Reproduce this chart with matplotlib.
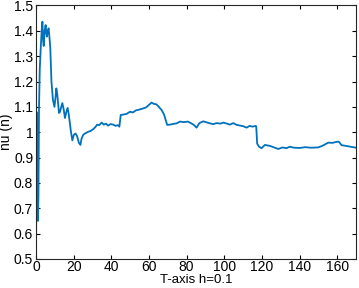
import matplotlib.pyplot as plt

plt.rcParams['font.family'] = ['Liberation Sans', 'DejaVu Sans']

# values
t = [0, 0.3, 0.6, 1.0, 1.3, 1.6, 2.0, 2.5, 3.0, 3.4, 3.8, 4.1, 4.6, 5.1, 5.5, 5.8,
     6.3, 6.7, 7.2, 7.6, 8.2, 9.0, 9.8, 10.4, 10.8, 11.3, 12.2, 12.7, 13.4, 14.0,
     14.7, 15.4, 16.1, 16.8, 17.4, 18.0, 18.6, 19.3, 20.1, 21.0, 21.8, 22.8, 23.6,
     24.2, 25.1, 26.2, 27.8, 29.0, 30.4, 31.5, 32.5, 33.6, 34.9, 36.0, 37.2, 38.3,
     39.5, 41.0, 42.3, 43.5, 44.3, 45.0, 46.5, 48.0, 50.0, 51.5, 53.0, 55.2, 57.0,
     58.5, 60.0, 61.4, 62.5, 64.0, 65.5, 66.7, 68.0, 69.0, 69.7, 71.2, 73.0, 74.7,
     76.5, 78.5, 80.7, 82.5, 84.0, 85.3, 86.8, 88.8, 91.0, 92.5, 94.1, 96.0, 98.0,
     99.5, 101.5, 103.0, 104.8, 106.6, 108.5, 110.0, 111.9, 113.5, 115.0, 116.8,
     117.0, 117.5, 118.5, 119.8, 121.6, 124.3, 126.5, 128.7, 131.0, 133.0, 134.9,
     137.0, 140.2, 143.0, 146.0, 149.9, 152.0, 153.5, 155.3, 157.5, 159.0, 160.6,
     161.2, 162.3, 164.0, 166.8, 168.5, 170.0]
nu = [0.50, 1.08, 0.90, 0.65, 0.75, 1.10, 1.25, 1.33, 1.40, 1.436, 1.36, 1.34,
      1.40, 1.423, 1.39, 1.377, 1.40, 1.41, 1.37, 1.33, 1.20, 1.127, 1.10, 1.14,
      1.173, 1.15, 1.076, 1.08, 1.10, 1.115, 1.09, 1.056, 1.08, 1.096, 1.07, 1.036,
      1.00, 0.968, 0.99, 0.995, 0.985, 0.958, 0.950, 0.975, 0.990, 0.996, 1.002,
      1.005, 1.012, 1.020, 1.030, 1.028, 1.038, 1.030, 1.034, 1.026, 1.032, 1.030,
      1.025, 1.028, 1.022, 1.068, 1.070, 1.072, 1.081, 1.078, 1.086, 1.090, 1.094,
      1.098, 1.108, 1.117, 1.112, 1.110, 1.098, 1.088, 1.070, 1.045, 1.029, 1.030,
      1.033, 1.035, 1.042, 1.040, 1.042, 1.035, 1.028, 1.018, 1.036, 1.043, 1.038,
      1.035, 1.032, 1.036, 1.034, 1.038, 1.034, 1.030, 1.036, 1.029, 1.026, 1.024,
      1.018, 1.025, 1.022, 1.025, 1.022, 0.955, 0.943, 0.937, 0.950, 0.946, 0.940,
      0.934, 0.940, 0.937, 0.943, 0.939, 0.938, 0.941, 0.939, 0.940, 0.946, 0.952,
      0.959, 0.958, 0.961, 0.963, 0.960, 0.949, 0.947, 0.943, 0.941, 0.939]

fig = plt.figure(figsize=(3.59, 2.88), dpi=100)
ax = fig.add_axes([0.1003, 0.1007, 0.8913, 0.8803])
ax.plot(t, nu, color='#0072BD', lw=1.3)
ax.set_xlim(0, 170)
ax.set_ylim(0.5, 1.5)
ax.set_xticks(range(0, 161, 20))
ax.set_yticks([0.5, 0.6, 0.7, 0.8, 0.9, 1, 1.1, 1.2, 1.3, 1.4, 1.5])
ax.set_yticklabels(['0.5', '0.6', '0.7', '0.8', '0.9', '1', '1.1', '1.2', '1.3', '1.4', '1.5'])
ax.tick_params(direction='in', top=True, right=True, labelsize=10, length=3)
ax.tick_params(axis='x', pad=1)
ax.tick_params(axis='y', pad=2)
for s in ax.spines.values():
    s.set_linewidth(0.8)
    s.set_color('#262626')
ax.set_xlabel('T-axis h=0.1', fontsize=9.5, labelpad=-0.5)
ax.set_ylabel('nu (n)', fontsize=10, labelpad=1)
fig.savefig('out.png', dpi=100)
